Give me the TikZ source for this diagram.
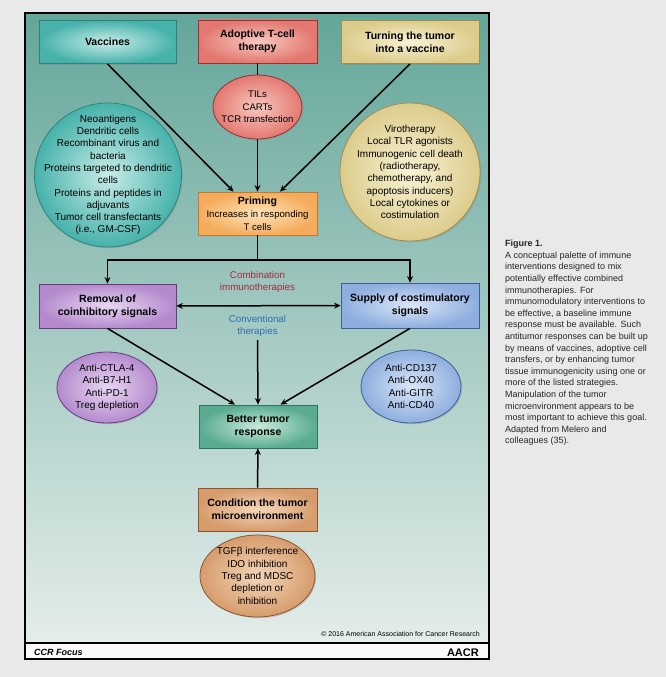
\documentclass[tikz,border=0pt]{standalone}
\usepackage{fontspec}
\setmainfont{Liberation Sans}
\usetikzlibrary{shapes.geometric,arrows.meta,shadows,calc}
\definecolor{pagebg}{RGB}{233,233,233}
\definecolor{paneltop}{RGB}{100,166,154}
\definecolor{panelmid}{RGB}{158,199,189}
\definecolor{panelbot}{RGB}{228,237,234}
\definecolor{combred}{RGB}{160,45,60}
\definecolor{convblue}{RGB}{45,110,180}
% teal
\definecolor{tealD}{RGB}{47,130,124}\definecolor{tealI}{RGB}{200,236,232}\definecolor{tealO}{RGB}{70,178,170}
% red
\definecolor{redD}{RGB}{150,50,50}\definecolor{redI}{RGB}{250,200,192}\definecolor{redO}{RGB}{226,120,112}
% yellow
\definecolor{yelD}{RGB}{160,140,80}\definecolor{yelI}{RGB}{248,242,212}\definecolor{yelO}{RGB}{220,204,140}
% orange
\definecolor{oraD}{RGB}{200,120,45}\definecolor{oraI}{RGB}{254,228,186}\definecolor{oraO}{RGB}{244,172,92}
% purple
\definecolor{purD}{RGB}{100,60,130}\definecolor{purI}{RGB}{232,214,242}\definecolor{purO}{RGB}{180,138,205}
% blue
\definecolor{bluD}{RGB}{60,95,150}\definecolor{bluI}{RGB}{218,230,248}\definecolor{bluO}{RGB}{142,174,222}
% green
\definecolor{grnD}{RGB}{45,115,95}\definecolor{grnI}{RGB}{200,234,220}\definecolor{grnO}{RGB}{90,172,144}
% brown
\definecolor{brnD}{RGB}{140,85,48}\definecolor{brnI}{RGB}{244,214,186}\definecolor{brnO}{RGB}{214,156,108}
\begin{document}
\begin{tikzpicture}[x=1pt,y=-1pt,
  colored/.style={draw=#1D, inner color=#1I, outer color=#1O},
  bx/.style={rectangle, line width=0.8pt, shading=radial, align=center,
    minimum height=43pt, inner sep=2pt,
    font=\bfseries\fontsize{10.5}{13}\selectfont,
    drop shadow={opacity=0.3, shadow xshift=1.2pt, shadow yshift=-1.2pt}},
  el/.style={ellipse, line width=0.8pt, shading=radial, inner sep=0pt,
    drop shadow={opacity=0.3, shadow xshift=1.2pt, shadow yshift=-1.2pt}},
  eltxt/.style={align=center, inner sep=0pt, font=\fontsize{10}{12.3}\selectfont},
  arr/.style={line width=1.5pt, -{Stealth[length=6.5pt,width=6pt]}},
  ln/.style={line width=1.5pt},
  dbl/.style={line width=1.5pt, {Stealth[length=6.5pt,width=6pt]}-{Stealth[length=6.5pt,width=6pt]}},
  lbl/.style={align=center, font=\fontsize{9.8}{11.5}\selectfont}
]
\useasboundingbox (0,0) rectangle (666,677);
\fill[pagebg] (0,0) rectangle (666,677);
% panel
\shade[top color=paneltop, middle color=panelmid, bottom color=panelbot] (25,13) rectangle (489,643);
\fill[white!96!gray] (25,643) rectangle (489,659);
\draw[line width=1.5pt] (25,13) rectangle (489,659);
\draw[line width=2pt] (25,643) -- (489,643);

% top boxes
\node[bx, colored=teal, minimum width=137pt] (vac) at (107.5,42) {Vaccines};
\node[bx, colored=red, minimum width=119pt] (adopt) at (257.5,41.5) {Adoptive T-cell\\therapy};
\node[bx, colored=yel, minimum width=138pt] (turn) at (410,42) {Turning the tumor\\into a vaccine};

% ellipses top
\node[el, colored=red, minimum width=89pt, minimum height=64pt,
  label={[eltxt, font=\fontsize{9.6}{12.3}\selectfont]center:TILs\\CARTs\\TCR transfection}] (tils) at (257.5,107) {};
\node[el, colored=teal, minimum width=147pt, minimum height=144pt,
  label={[eltxt]center:Neoantigens\\Dendritic cells\\Recombinant virus and\\bacteria\\Proteins targeted to dendritic\\cells\\Proteins and peptides in\\adjuvants\\Tumor cell transfectants\\(i.e., GM-CSF)}] (vacc) at (108,175) {};
\node[el, colored=yel, minimum width=140pt, minimum height=138pt,
  label={[eltxt]center:Virotherapy\\Local TLR agonists\\Immunogenic cell death\\(radiotherapy,\\chemotherapy, and\\apoptosis inducers)\\Local cytokines or\\costimulation}] (turnc) at (410,172) {};

% priming
\node[bx, colored=ora, minimum width=119pt, font=\fontsize{9.6}{13}\selectfont] (prim) at (257.5,213.5) {\textbf{\fontsize{10.5}{13}\selectfont Priming}\\Increases in responding\\T cells};

% middle row
\node[bx, colored=pur, minimum width=137pt, minimum height=44pt] (rem) at (107.5,306) {Removal of\\coinhibitory signals};
\node[bx, colored=blu, minimum width=138pt, minimum height=45pt] (sup) at (410,305.5) {Supply of costimulatory\\signals};

\node[lbl, text=combred] (comb) at (257.5,282) {Combination\\immunotherapies};
\node[lbl, text=convblue] (conv) at (257.5,326) {Conventional\\therapies};

% better
\node[bx, colored=grn, minimum width=118pt] (better) at (258,426.5) {Better tumor\\response};

\node[el, colored=pur, minimum width=100pt, minimum height=71pt,
  label={[eltxt]center:Anti-CTLA-4\\Anti-B7-H1\\Anti-PD-1\\Treg depletion}] (remc) at (107,387.5) {};
\node[el, colored=blu, minimum width=100pt, minimum height=73pt,
  label={[eltxt]center:Anti-CD137\\Anti-OX40\\Anti-GITR\\Anti-CD40}] (supc) at (411,386.5) {};

% condition
\node[bx, colored=brn, minimum width=119pt] (cond) at (257.5,509.5) {Condition the tumor\\microenvironment};
\node[el, colored=brn, minimum width=115pt, minimum height=82pt,
  label={[eltxt]center:TGFβ interference\\IDO inhibition\\Treg and MDSC\\depletion or\\inhibition}] (condc) at (257.5,576) {};

% connectors
\coordinate (split) at (257.5,260);
\draw[arr] (vac.south) -- ([xshift=-24pt]prim.north);
\draw[ln] (adopt) -- (tils);
\draw[arr] (tils) -- (prim);
\draw[arr] (turn.south) -- ([xshift=22.5pt]prim.north);
\draw[ln] (prim) -- (split);
\draw[arr] (split) -| (rem.north);
\draw[arr] (split) -| (sup.north);
\draw[dbl] (rem) -- (sup);
\draw[arr] (conv.south) -- (better.north);
\draw[arr] (rem.south) -- ([xshift=-23pt]better.north);
\draw[arr] (sup.south) -- ([xshift=22.5pt]better.north);
\draw[arr] (cond) -- (better);

% footer texts
\node[anchor=base east, font=\fontsize{7}{8}\selectfont, inner sep=0pt] (copy) at (480,636) {© 2016 American Association for Cancer Research};
\node[anchor=base west, font=\bfseries\itshape\fontsize{9}{10}\selectfont, inner sep=0pt] (ccr) at (34,655) {CCR Focus};
\node[anchor=base east, font=\bfseries\fontsize{11}{12}\selectfont, inner sep=0pt] (aacr) at (479,656) {AACR};

% caption
\node[anchor=north west, align=left, inner sep=0pt, text=black!85, font=\fontsize{9}{11.6}\selectfont] (cap) at (505,240) {\textbf{Figure 1.}\\A conceptual palette of immune\\interventions designed to mix\\potentially effective combined\\immunotherapies. For\\immunomodulatory interventions to\\be effective, a baseline immune\\response must be available. Such\\antitumor responses can be built up\\by means of vaccines, adoptive cell\\transfers, or by enhancing tumor\\tissue immunogenicity using one or\\more of the listed strategies.\\Manipulation of the tumor\\microenvironment appears to be\\most important to achieve this goal.\\Adapted from Melero and\\colleagues (35).};
\end{tikzpicture}
\end{document}
